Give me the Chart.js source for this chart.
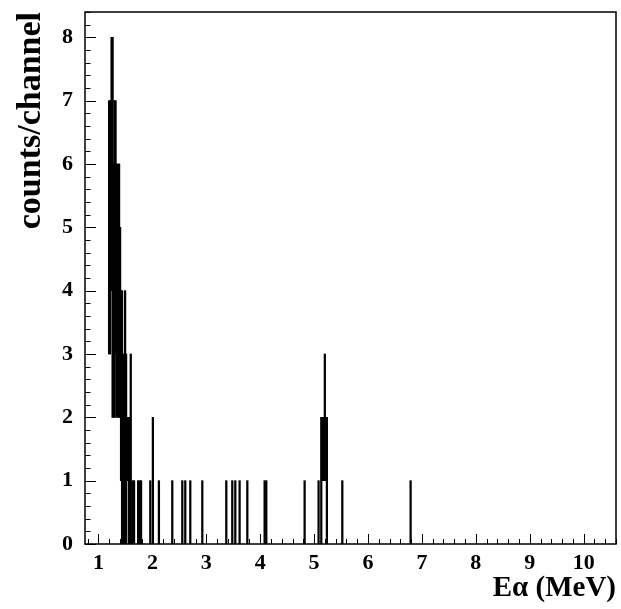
<!DOCTYPE html>
<html>
<head>
<meta charset="utf-8">
<script src="https://cdn.jsdelivr.net/npm/chart.js@4.4.1/dist/chart.umd.min.js"></script>
<style>
  html, body { margin: 0; padding: 0; background: #fff; }
  #wrap { width: 621px; height: 609px; }
</style>
</head>
<body>
<div id="wrap"><canvas id="spec" width="621" height="609"></canvas></div>
<script>
// ---------- Data ----------
// energy of each channel group (MeV), and the count range drawn there
const chanEnergy = [1.197, 1.215, 1.243, 1.262, 1.280, 1.299, 1.317, 1.336, 1.364, 1.382,
  1.401, 1.419, 1.438, 1.456, 1.475, 1.494, 1.512, 1.531, 1.549, 1.564,
  1.599, 1.633, 1.660, 1.735, 1.763, 1.790,
  1.961, 2.009, 2.121, 2.369, 2.555, 2.610, 2.703, 2.926,
  3.371, 3.482, 3.538, 3.618, 3.761, 4.082, 4.113, 4.824,
  5.083, 5.133, 5.152, 5.171, 5.186, 5.199, 5.217, 5.237, 5.523, 6.790];
const chanMin = [3, 3, 4, 2, 2, 2, 3, 2, 2, 2,
  2, 1, 0, 1, 0, 1, 0, 1, 1, 0,
  0, 0, 0, 0, 0, 0,
  0, 0, 0, 0, 0, 0, 0, 0,
  0, 0, 0, 0, 0, 0, 0, 0,
  0, 0, 1, 1, 1, 1, 1, 0, 0, 0];
const chanMax = [7, 7, 8, 8, 6, 7, 7, 6, 6, 6,
  5, 4, 4, 3, 3, 4, 3, 2, 2, 2,
  3, 1, 1, 1, 1, 1,
  1, 2, 1, 1, 1, 1, 1, 1,
  1, 1, 1, 1, 1, 1, 1, 1,
  1, 2, 2, 2, 2, 3, 2, 2, 1, 1];

const xTickLabels = ['1', '2', '3', '4', '5', '6', '7', '8', '9', '10'];
const yTickLabels = ['0', '1', '2', '3', '4', '5', '6', '7', '8'];

const X_MIN = 0.75, X_MAX = 10.6;
const Y_MIN = 0, Y_MAX = 8.4;
const MINOR = 0.2;

const FONT = "'Liberation Serif', 'Times New Roman', serif";

// ---------- helpers ----------
function isMajor(v) { return Math.abs(v - Math.round(v)) < 1e-6; }

function minorTicks(lo, hi) {
  const out = [];
  const start = Math.ceil(lo / MINOR - 1e-6);
  for (let i = start; i * MINOR <= hi + 1e-6; i++) out.push({ value: +(i * MINOR).toFixed(4) });
  return out;
}

// ROOT-style frame with inward ticks
const frameTicks = {
  id: 'frameTicks',
  afterDatasetsDraw(chart) {
    const { ctx, chartArea: a, scales } = chart;
    ctx.save();
    ctx.strokeStyle = '#000';
    ctx.lineWidth = 1;
    ctx.beginPath();
    scales.x.ticks.forEach(t => {
      const px = Math.round(scales.x.getPixelForValue(t.value)) + 0.5;
      const len = isMajor(t.value) ? 10 : 5;
      ctx.moveTo(px, a.bottom);
      ctx.lineTo(px, a.bottom - len);
    });
    scales.y.ticks.forEach(t => {
      const py = Math.round(scales.y.getPixelForValue(t.value)) + 0.5;
      const len = isMajor(t.value) ? 11 : 5.5;
      ctx.moveTo(a.left, py);
      ctx.lineTo(a.left + len, py);
    });
    ctx.stroke();
    ctx.lineWidth = 1.5;
    ctx.strokeRect(a.left, a.top, a.right - a.left, a.bottom - a.top);
    ctx.restore();
  }
};

const points = chanEnergy.map((e, i) => ({ x: e, y: [chanMin[i], chanMax[i]] }));

new Chart(document.getElementById('spec'), {
  type: 'bar',
  data: {
    datasets: [{
      data: points,
      backgroundColor: '#000',
      borderWidth: 0,
      barThickness: 1.6,
      grouped: false
    }]
  },
  options: {
    responsive: false,
    animation: false,
    layout: { padding: { left: 0, right: 5, top: 12, bottom: 0 } },
    plugins: { legend: { display: false }, tooltip: { enabled: false } },
    scales: {
      x: {
        type: 'linear',
        min: X_MIN,
        max: X_MAX,
        offset: false,
        grid: { display: false, drawTicks: false },
        border: { display: false },
        afterBuildTicks: s => { s.ticks = minorTicks(X_MIN, X_MAX); },
        afterFit: s => { s.height = 65; s.paddingLeft = 0; s.paddingRight = 0; },
        ticks: {
          autoSkip: false,
          maxRotation: 0,
          padding: 6,
          color: '#000',
          font: { family: FONT, size: 22, weight: 'bold' },
          callback: v => {
            if (!isMajor(v)) return '';
            const idx = Math.round(v) - 1;
            return xTickLabels[idx] !== undefined ? xTickLabels[idx] : '';
          }
        },
        title: {
          display: true,
          text: 'Eα (MeV)',
          align: 'end',
          color: '#000',
          padding: { top: 0, bottom: 3 },
          font: { family: FONT, size: 29, weight: 'bold' }
        }
      },
      y: {
        type: 'linear',
        min: Y_MIN,
        max: Y_MAX,
        grid: { display: false, drawTicks: false },
        border: { display: false },
        afterBuildTicks: s => { s.ticks = minorTicks(Y_MIN, Y_MAX); },
        afterFit: s => { s.width = 85; s.paddingTop = 0; s.paddingBottom = 0; },
        ticks: {
          autoSkip: false,
          padding: 12,
          color: '#000',
          font: { family: FONT, size: 22, weight: 'bold' },
          callback: v => {
            if (!isMajor(v)) return '';
            const idx = Math.round(v);
            return yTickLabels[idx] !== undefined ? yTickLabels[idx] : '';
          }
        },
        title: {
          display: true,
          text: 'counts/channel',
          align: 'end',
          color: '#000',
          padding: { top: 11, bottom: 0 },
          font: { family: FONT, size: 34, weight: 'bold' }
        }
      }
    }
  },
  plugins: [frameTicks]
});
</script>
</body>
</html>
